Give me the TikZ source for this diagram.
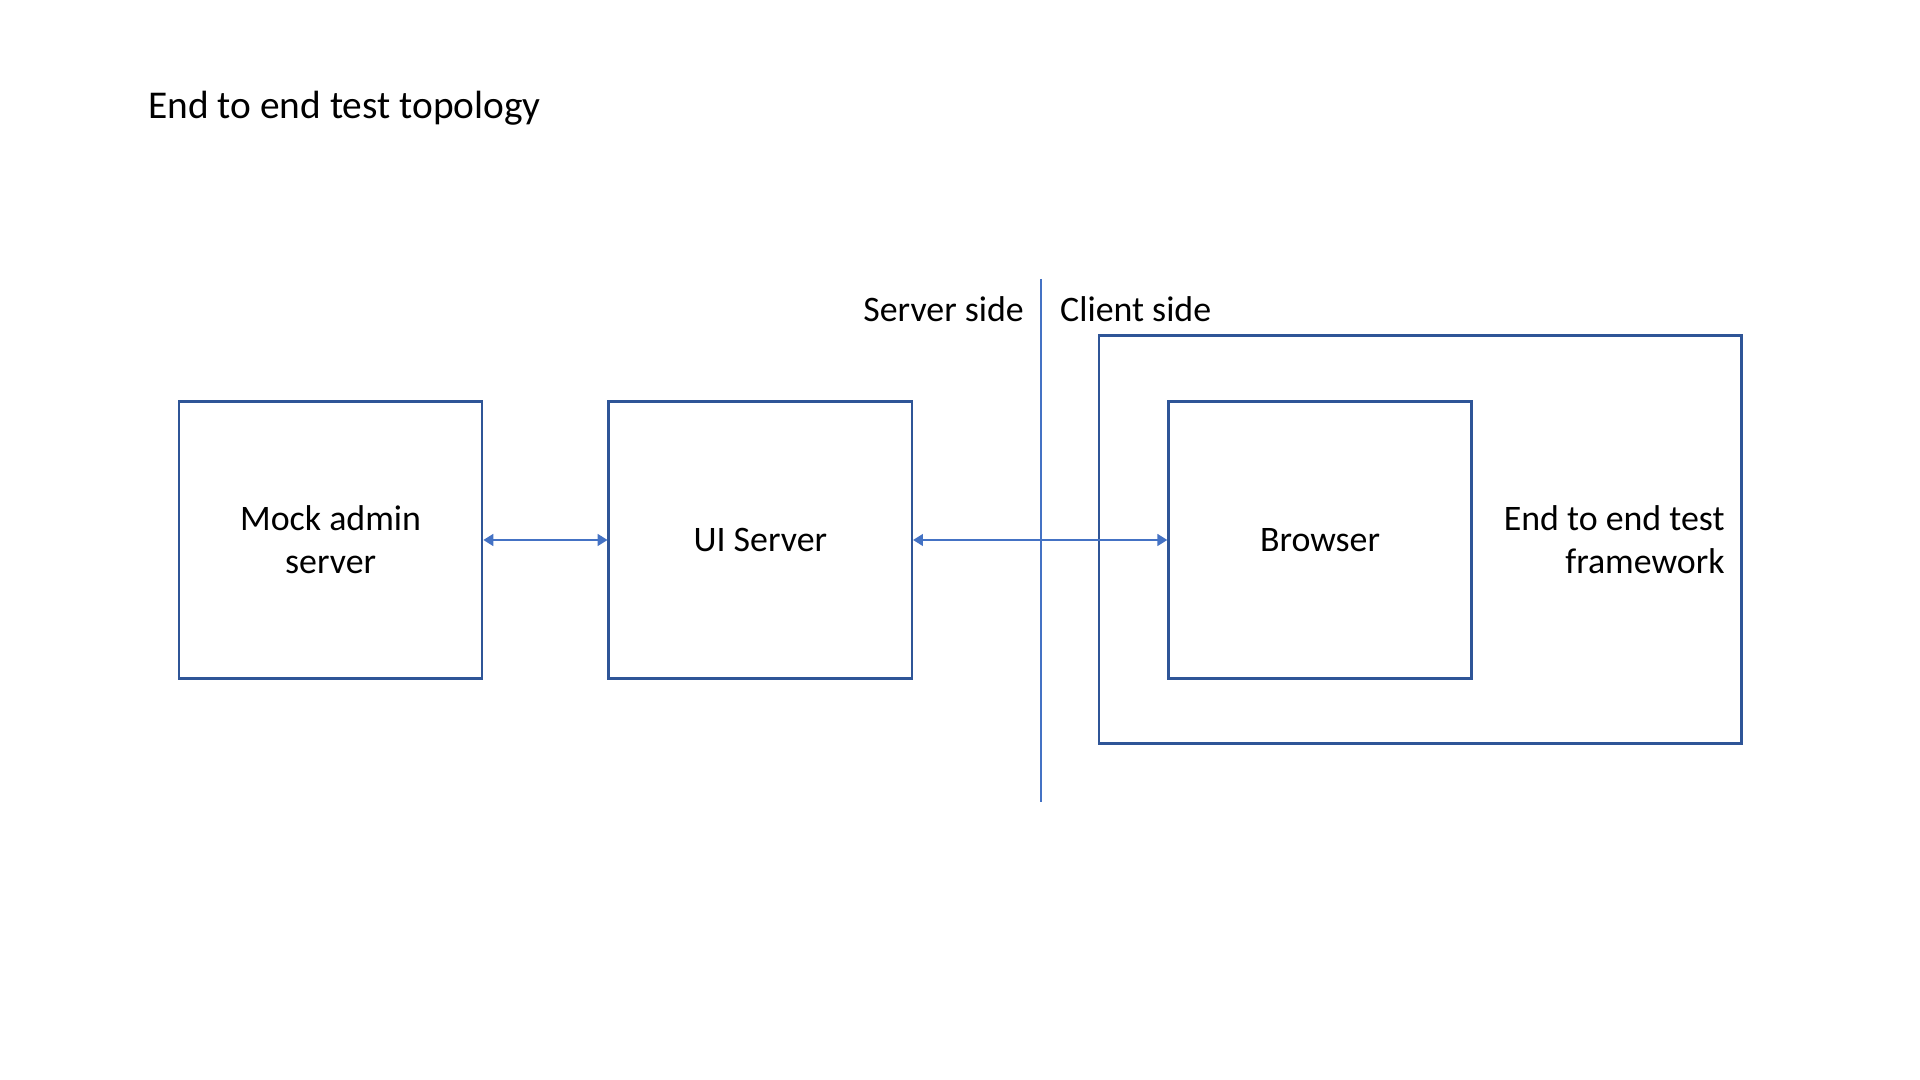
\documentclass[tikz,border=0pt]{standalone}
\usepackage{fontspec}
\setmainfont{Carlito}
\usetikzlibrary{arrows.meta,positioning}
\definecolor{boxblue}{HTML}{2F5597}
\definecolor{linkblue}{HTML}{4472C4}
\tikzset{every picture/.style={line width=0.7pt}}
\tikzset{
    block/.style={draw=boxblue, minimum width=3.03cm, minimum height=2.77cm,
        align=center, font=\fontsize{10.2}{12.2}\selectfont},
    label text/.style={inner sep=0pt, font=\fontsize{10.2}{12.2}\selectfont},
    link/.style={draw=linkblue, line width=0.4pt,
        {Triangle[length=2.8pt,width=3.4pt]}-{Triangle[length=2.8pt,width=3.4pt]}},
}

\begin{document}
\begin{tikzpicture}[x=0.01cm, y=-0.01cm]
    \useasboundingbox (0,0) rectangle (1920,1080);
    \node (title) [anchor=west, inner sep=0pt, font=\fontsize{11.2}{13.4}\selectfont] at (147,108) {End to end test topology};
    % boxes
    \node[block] (mock) at (330.6,540) {Mock admin\\server};
    \node[block, right=1.24cm of mock] (ui) {UI Server};
    \node[draw=boxblue, minimum width=6.42cm, minimum height=4.08cm] (frame) at (1420.4,539.4) {};
    \node[block, right=2.54cm of ui] (browser) {Browser};
    \node[label text, align=right, anchor=east] (fwlabel) at ([xshift=-0.17cm]frame.east) {End to end test\\framework};
    % server / client split
    \coordinate (divtop) at (1040.8,279);
    \coordinate (divbot) at (1040.8,802);
    \draw[linkblue, line width=0.4pt] (divtop) -- (divbot);
    \node[label text, anchor=east] (server) at (1025,309) {Server side};
    \node[label text, anchor=west] (client) at (1059,309) {Client side};
    % links
    \draw[link] (mock.east) -- (ui.west);
    \draw[link] (ui.east) -- (browser.west);
\end{tikzpicture}
\end{document}
